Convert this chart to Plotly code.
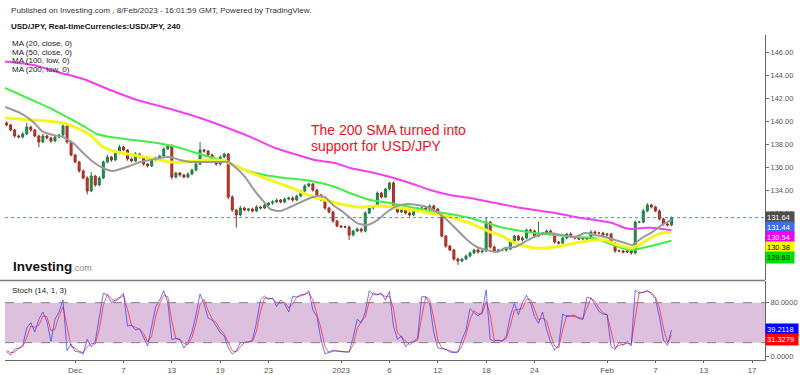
import plotly.graph_objects as go

# ---------------- data (USD/JPY, 8h bars) ----------------
first_open = 139.87
closes = [
    139.70, 139.26, 138.74, 138.65, 138.91, 139.52, 139.26, 138.74, 138.22, 138.74,
    138.57, 138.30, 138.65, 138.83, 139.61, 138.22, 137.09, 136.48, 135.70, 135.09,
    133.96, 135.26, 134.48, 135.09, 136.48, 136.91, 136.65, 137.26, 137.78, 137.52,
    136.74, 136.57, 137.17, 136.91, 136.30, 136.13, 136.65, 136.83, 137.00, 137.61,
    137.87, 135.17, 135.52, 135.35, 135.17, 135.43, 135.78, 136.30, 137.52, 137.43,
    137.09, 136.65, 136.30, 136.91, 137.17, 133.43, 132.30, 131.87, 132.48, 132.30,
    132.39, 132.22, 132.57, 132.48, 132.74, 132.91, 133.00, 133.17, 133.00, 133.26,
    133.35, 133.17, 133.52, 133.96, 134.39, 134.57, 134.04, 133.61, 133.17, 132.48,
    132.13, 131.35, 130.91, 130.83, 130.83, 130.13, 130.48, 130.65, 130.48, 132.04,
    132.48, 132.65, 133.78, 133.43, 134.13, 134.65, 132.57, 132.13, 132.30, 132.04,
    131.87, 132.22, 132.39, 132.48, 132.39, 132.65, 132.39, 131.96, 130.04, 129.17,
    128.83, 128.04, 127.87, 128.04, 128.30, 128.57, 128.83, 128.65, 128.74, 131.26,
    129.09, 128.74, 128.83, 128.83, 128.91, 129.61, 130.04, 129.70, 129.87, 130.57,
    130.48, 130.04, 130.22, 130.30, 130.48, 130.22, 129.52, 129.43, 129.87, 130.22,
    129.96, 129.87, 129.78, 129.87, 129.78, 130.39, 130.30, 130.30, 130.13, 130.22,
    129.43, 128.74, 128.74, 128.65, 128.74, 128.57, 131.26, 131.26, 132.22, 132.74,
    132.57, 132.22, 131.52, 131.09, 131.00, 131.64]
upper_wick = [
    0.15, 0.08, 0.10, 0.12, 0.20, 0.35, 0.10, 0.08, 0.12, 0.18,
    0.10, 0.12, 0.15, 0.10, 0.26, 0.10, 0.12, 0.08, 0.10, 0.12,
    0.15, 0.35, 0.10, 0.15, 0.12, 0.20, 0.10, 0.15, 0.20, 0.10,
    0.08, 0.12, 0.18, 0.10, 0.08, 0.10, 0.15, 0.12, 0.10, 0.15,
    0.12, 0.15, 0.12, 0.10, 0.08, 0.15, 0.12, 0.18, 0.70, 0.10,
    0.08, 0.12, 0.10, 0.15, 0.12, 0.10, 0.15, 0.12, 0.20, 0.10,
    0.08, 0.12, 0.15, 0.10, 0.12, 0.10, 0.15, 0.12, 0.10, 0.12,
    0.10, 0.15, 0.12, 0.10, 0.15, 0.12, 0.10, 0.08, 0.10, 0.12,
    0.10, 0.12, 0.10, 0.08, 0.10, 0.12, 0.10, 0.15, 0.12, 0.15,
    0.12, 0.10, 0.15, 0.12, 0.10, 0.12, 0.15, 0.10, 0.12, 0.10,
    0.12, 0.10, 0.15, 0.12, 0.10, 0.15, 0.12, 0.10, 0.12, 0.10,
    0.08, 0.10, 0.12, 0.10, 0.15, 0.12, 0.10, 0.15, 0.12, 0.44,
    0.10, 0.12, 0.10, 0.08, 0.12, 0.15, 0.12, 0.10, 0.15, 0.12,
    0.10, 0.12, 1.08, 0.10, 0.15, 0.12, 0.10, 0.08, 0.12, 0.10,
    0.15, 0.12, 0.10, 0.08, 0.10, 0.15, 0.12, 0.10, 0.12, 0.10,
    0.08, 0.10, 0.12, 0.10, 0.12, 0.10, 0.15, 0.12, 0.20, 0.17,
    0.12, 0.10, 0.15, 0.12, 0.10, 0.10]
lower_wick = [
    0.10, 0.12, 0.15, 0.10, 0.12, 0.10, 0.15, 0.12, 0.44, 0.10,
    0.12, 0.15, 0.10, 0.12, 0.10, 0.15, 0.12, 0.10, 0.15, 0.12,
    0.30, 0.10, 0.15, 0.12, 0.10, 0.12, 0.15, 0.10, 0.12, 0.10,
    0.15, 0.12, 0.10, 0.12, 0.15, 0.12, 0.10, 0.12, 0.10, 0.12,
    0.10, 0.20, 0.12, 0.15, 0.10, 0.12, 0.10, 0.12, 0.10, 0.15,
    0.12, 0.10, 0.15, 0.12, 0.10, 0.20, 0.15, 1.10, 0.12, 0.10,
    0.15, 0.12, 0.10, 0.12, 0.10, 0.12, 0.15, 0.10, 0.12, 0.10,
    0.12, 0.15, 0.10, 0.12, 0.10, 0.12, 0.15, 0.12, 0.10, 0.15,
    0.12, 0.15, 0.12, 0.10, 0.12, 0.43, 0.12, 0.10, 0.15, 0.12,
    0.10, 0.12, 0.10, 0.12, 0.10, 0.12, 0.15, 0.12, 0.10, 0.12,
    0.15, 0.10, 0.12, 0.10, 0.12, 0.10, 0.12, 0.15, 0.12, 0.15,
    0.12, 0.15, 0.35, 0.12, 0.10, 0.12, 0.10, 0.12, 0.10, 0.12,
    0.15, 0.12, 0.10, 0.12, 0.15, 0.10, 0.12, 0.10, 0.12, 0.10,
    0.12, 0.15, 0.10, 0.12, 0.10, 0.12, 0.15, 0.12, 0.10, 0.12,
    0.10, 0.12, 0.10, 0.15, 0.12, 0.10, 0.12, 0.10, 0.12, 0.15,
    0.12, 0.15, 0.10, 0.12, 0.10, 0.15, 0.12, 0.10, 0.12, 0.10,
    0.12, 0.10, 0.12, 0.15, 0.12, 0.10]

# moving averages, read at bar positions
ma20_x = [-0.4, 3.35, 6.6, 9.06, 11.54, 14.0, 16.5, 19.0, 21.5, 23.9, 26.2, 28.2, 30.6, 33.1,
          35.6, 38.1, 40.6, 43.05, 45.5, 48.0, 50.5, 53.0, 55.0, 56.7, 59.2, 60.9, 62.4, 64.1,
          65.4, 67.9, 70.4, 73.6, 77.0, 79.0, 81.0, 83.5, 87.0, 89.5, 92.0, 94.4, 96.9, 99.4,
          101.9, 104.3, 106.8, 109.3, 111.8, 114.3, 116.7, 119.2, 121.7, 123.7, 126.2, 129.4,
          131.9, 134.4, 137.8, 141.1, 143.5, 146.0, 148.5, 151.0, 153.5, 155.2, 157.7, 160.2,
          162.6, 165.0]
ma20_y = [141.26, 140.74, 139.96, 139.09, 138.83, 138.65, 138.13, 137.26, 136.48, 135.96, 135.70,
          135.87, 136.13, 136.48, 136.65, 136.83, 136.91, 136.65, 136.48, 136.48, 136.48, 136.48,
          136.48, 136.04, 135.17, 134.30, 133.61, 132.91, 132.39, 132.22, 132.57, 133.09, 133.52,
          133.43, 132.74, 132.13, 131.17, 131.00, 131.43, 132.13, 132.65, 132.83, 132.74, 132.57,
          132.13, 131.43, 130.57, 129.70, 129.09, 128.83, 128.65, 129.00, 129.09, 129.70, 130.13,
          130.30, 130.13, 129.96, 130.30, 130.13, 129.96, 129.70, 129.43, 129.26, 129.87, 130.39,
          131.00, 131.44]
ma50_x = [-0.4, 6.6, 14.0, 17.5, 20.7, 23.9, 27.4, 31.4, 35.6, 40.6, 44.8, 49.8, 54.2, 56.7, 60.9,
          65.9, 70.8, 74.8, 79.0, 82.8, 87.0, 92.0, 95.9, 100.9, 105.1, 110.0, 115.0, 120.0, 122.5,
          126.2, 131.1, 136.1, 141.1, 146.0, 148.5, 151.7, 155.2, 157.7, 160.2, 162.6, 165.0]
ma50_y = [140.30, 140.13, 139.87, 139.43, 138.83, 137.78, 137.35, 137.09, 136.83, 136.48, 136.48,
          136.65, 136.57, 136.13, 135.52, 134.83, 134.22, 133.61, 133.17, 132.83, 132.57, 132.65,
          132.57, 132.30, 132.04, 131.70, 131.17, 130.39, 130.13, 129.43, 129.00, 129.09, 129.43,
          129.70, 129.70, 129.26, 129.00, 129.43, 129.96, 130.30, 130.38]
ma100_x = [-0.4, 6.3, 10.8, 15.0, 19.0, 22.5, 25.7, 31.4, 37.3, 42.3, 46.3, 50.5, 54.7, 59.2, 64.1,
           69.1, 74.1, 79.0, 81.5, 85.2, 90.2, 95.2, 100.1, 105.1, 110.0, 115.0, 120.0, 122.5,
           126.2, 131.1, 136.1, 141.1, 146.0, 149.3, 152.7, 155.2, 157.7, 160.9, 165.0]
ma100_y = [142.91, 141.87, 141.17, 140.39, 139.61, 138.91, 138.65, 138.39, 138.13, 137.78, 137.35,
           136.91, 136.48, 135.78, 135.35, 135.09, 134.91, 134.57, 134.30, 133.78, 133.17, 132.91,
           132.57, 132.22, 131.96, 131.61, 131.09, 130.83, 130.57, 130.30, 130.13, 129.96, 129.87,
           129.43, 129.00, 128.83, 129.00, 129.26, 129.63]
ma200_x = [-0.4, 6.6, 12.5, 19.0, 25.7, 32.4, 39.8, 48.0, 55.5, 60.9, 66.6, 72.3, 76.5, 81.5, 85.2,
           90.2, 95.2, 100.1, 105.1, 110.0, 115.0, 120.0, 126.2, 131.1, 136.1, 141.1, 146.0, 150.2,
           153.5, 155.2, 157.7, 160.9, 165.0]
ma200_y = [145.22, 144.91, 144.30, 143.70, 142.74, 141.87, 141.17, 140.30, 139.35, 138.60, 137.70,
           137.09, 136.65, 136.39, 135.96, 135.61, 135.17, 134.65, 134.04, 133.61, 133.35, 133.00,
           132.57, 132.30, 132.04, 131.70, 131.43, 131.17, 130.74, 130.65, 130.74, 130.74, 130.54]

# stochastic (14, 1, 3) at each bar
stoch_k = [6.5, 1.5, 10, 12, 16, 42, 50, 36, 55, 66, 52, 22, 55, 66, 84, 8, 18, 7, 6, 3,
           25, 14, 22, 60, 94, 92, 80, 84, 88, 94, 45, 46, 39, 41, 27, 15, 45, 74, 84, 98,
           80, 25, 26, 25, 12, 21, 36, 62, 93, 78, 57, 54, 45, 35, 30, 12, 3, 8, 20, 21,
           21, 24, 50, 84, 90, 85, 87, 74, 84, 78, 66, 90, 88, 92, 92, 98, 69, 59, 25, 3,
           6, 9, 7, 6, 6, 6, 28, 55, 50, 66, 98, 92, 92, 94, 84, 97, 45, 25, 30, 14,
           20, 22, 27, 89, 89, 78, 35, 12, 11, 10, 6, 5, 6, 25, 39, 71, 65, 60, 66, 99,
           25, 22, 24, 22, 30, 60, 79, 62, 80, 91, 80, 59, 49, 66, 40, 21, 9, 16, 63, 59,
           60, 61, 56, 55, 88, 87, 77, 67, 63, 62, 14, 10, 21, 16, 22, 15, 99, 94, 96, 98,
           93, 86, 59, 24, 16, 39.2118]
stoch_d = [8, 5, 6, 11, 14, 28, 45, 43, 46, 60, 59, 38, 40, 60, 74, 45, 14, 12, 7, 5,
           14, 19, 18, 40, 76, 92, 86, 82, 86, 91, 70, 46, 43, 40, 34, 21, 30, 60, 79, 91,
           89, 52, 26, 25, 19, 17, 28, 49, 77, 85, 68, 56, 50, 40, 33, 21, 8, 6, 14, 20,
           21, 22, 37, 67, 87, 87, 86, 80, 79, 81, 72, 78, 89, 90, 92, 95, 84, 64, 42, 14,
           5, 7, 8, 7, 6, 6, 17, 41, 52, 58, 82, 95, 92, 93, 89, 90, 71, 35, 28, 22,
           17, 21, 24, 58, 89, 84, 57, 24, 12, 10, 8, 6, 6, 15, 32, 55, 68, 63, 63, 82,
           62, 24, 23, 23, 26, 45, 69, 70, 71, 85, 85, 70, 54, 57, 53, 31, 15, 12, 40, 61,
           60, 60, 58, 56, 72, 87, 82, 72, 65, 62, 38, 12, 16, 18, 19, 18, 57, 96, 95, 97,
           95, 89, 72, 42, 20, 31.3279]

tick_pos = [17, 29, 41, 53, 65, 83, 95, 107, 119, 131, 149, 161, 173, 185]
tick_text = ["Dec", "7", "13", "19", "23", "2023", "6", "12", "18", "24", "Feb", "7", "13", "17"]
price_ticks = [128, 130, 132, 134, 136, 138, 140, 142, 144, 146]

last_labels = [  # value, background, text colour
    (131.64, "#4d4d4d", "white"),
    (131.44, "#3f6fe0", "white"),
    (130.54, "#f000f0", "white"),
    (130.38, "#ffff00", "black"),
    (129.63, "#00e000", "black"),
]
stoch_labels = [(39.2118, "#0000ff", "white"), (31.3279, "#ff0000", "white")]

# ---------------- layout geometry ----------------
W, H = 800, 375
PX_L, PX_R = 5, 765
MAIN_TOP, MAIN_BOT = 35, 280
ST_TOP, ST_BOT = 281, 360
PRICE_RANGE = [126.22, 147.52]
STOCH_RANGE = [-6, 112.5]
X_RANGE = [-0.4, 188.2]
FONT = "Arial, Liberation Sans, sans-serif"


def pyp(px):
    return 1 - px / H


opens = [first_open] + closes[:-1]
highs = [max(o, c) + u for o, c, u in zip(opens, closes, upper_wick)]
lows = [min(o, c) - l for o, c, l in zip(opens, closes, lower_wick)]
bars = list(range(len(closes)))

fig = go.Figure()

for xs, ys, col, w in [(ma200_x, ma200_y, "#f040f0", 2),
                       (ma100_x, ma100_y, "#44ee44", 2),
                       (ma50_x, ma50_y, "#f5f522", 3),
                       (ma20_x, ma20_y, "#9a9a9a", 2)]:
    fig.add_trace(go.Scatter(x=xs, y=ys, mode="lines", xaxis="x", yaxis="y",
                             line=dict(color=col, width=w, shape="spline", smoothing=0.6),
                             hoverinfo="skip", showlegend=False))

fig.add_trace(go.Candlestick(
    x=bars, open=opens, high=highs, low=lows, close=closes, xaxis="x", yaxis="y",
    increasing=dict(line=dict(color="#1f7a45", width=1), fillcolor="#2a9155"),
    decreasing=dict(line=dict(color="#9e2a22", width=1), fillcolor="#c23a2e"),
    whiskerwidth=0, showlegend=False))

fig.add_trace(go.Scatter(x=bars, y=stoch_d, mode="lines", xaxis="x2", yaxis="y2",
                         line=dict(color="rgba(255,40,40,0.75)", width=1),
                         hoverinfo="skip", showlegend=False))
fig.add_trace(go.Scatter(x=bars, y=stoch_k, mode="lines", xaxis="x2", yaxis="y2",
                         line=dict(color="rgba(40,40,255,0.65)", width=1),
                         hoverinfo="skip", showlegend=False))

shapes = [
    dict(type="rect", xref="x2", yref="y2", x0=X_RANGE[0], x1=X_RANGE[1], y0=20, y1=80,
         fillcolor="#ddc0de", line=dict(width=0), layer="below"),
    dict(type="line", xref="x2", yref="y2", x0=X_RANGE[0], x1=X_RANGE[1], y0=80, y1=80,
         line=dict(color="#8a7a8a", width=1, dash="dash")),
    dict(type="line", xref="x2", yref="y2", x0=X_RANGE[0], x1=X_RANGE[1], y0=20, y1=20,
         line=dict(color="#8a7a8a", width=1, dash="dash")),
    dict(type="line", xref="x", yref="y", x0=X_RANGE[0], x1=X_RANGE[1], y0=closes[-1], y1=closes[-1],
         line=dict(color="#5a7fe0", width=1, dash="dot")),
    dict(type="line", xref="paper", yref="paper", x0=0, x1=PX_R / W, y0=pyp(280.5), y1=pyp(280.5),
         line=dict(color="#7a7a7a", width=1.5)),
]

ann = []


def txt(x, y, s, size=8, color="#222", **kw):
    ann.append(dict(x=x / W, y=pyp(y), xref="paper", yref="paper", text=s, showarrow=False,
                    xanchor=kw.pop("xanchor", "left"), yanchor="middle",
                    font=dict(family=FONT, size=size, color=color), **kw))


txt(9, 11, "Published on Investing.com , 8/Feb/2023 - 16:01:59 GMT, Powered by TradingView.", 8.1, "#333")
txt(9, 26, "<b>USD/JPY, Real-timeCurrencies:USD/JPY, 240</b>", 8, "#111")
for i, s in enumerate(["MA (20, close, 0)", "MA (50, close, 0)", "MA (100, low, 0)", "MA (200, low, 0)"]):
    txt(10, 44 + 8.5 * i, s, 8, "#222")
txt(10, 290, "Stoch (14, 1, 3)", 8, "#222")
txt(11, 266, "<b>Investing</b><span style='font-size:9px;color:#8a8a8a'>.com</span>", 13.5, "#111")
txt(309, 130, "The 200 SMA turned into", 14, "#e8141c")
txt(309, 146, "support for USD/JPY", 14, "#e8141c")


def stack(labels, rng, top, bot):
    out, prev = [], None
    for v, bg, fg in labels:
        p = top + (rng[1] - v) / (rng[1] - rng[0]) * (bot - top)
        if prev is not None and p < prev + 10:
            p = prev + 10
        prev = p
        out.append((p, v, bg, fg))
    return out


for p, v, bg, fg in stack(last_labels, PRICE_RANGE, MAIN_TOP, MAIN_BOT):
    txt(PX_R, p, f"{v:.2f}", 7.5, fg, bgcolor=bg, borderpad=1, width=26, align="left")
for p, v, bg, fg in stack(stoch_labels, STOCH_RANGE, ST_TOP, ST_BOT):
    txt(PX_R, p, f"{v:.4f}", 7.5, fg, bgcolor=bg, borderpad=1, width=30, align="left")

axis_common = dict(showgrid=False, zeroline=False, fixedrange=True)
tfont = dict(size=7.5, color="#555")
fig.update_layout(
    width=W, height=H, margin=dict(l=0, r=0, t=0, b=0),
    paper_bgcolor="white", plot_bgcolor="white", showlegend=False,
    font=dict(family=FONT, size=8, color="#555"),
    xaxis=dict(domain=[PX_L / W, PX_R / W], range=X_RANGE, anchor="y", showticklabels=False,
               rangeslider=dict(visible=False), **axis_common),
    xaxis2=dict(domain=[PX_L / W, PX_R / W], range=X_RANGE, anchor="y2", tickmode="array",
                tickvals=tick_pos, ticktext=tick_text, ticks="outside", ticklen=2,
                tickcolor="#666", showline=True, linecolor="#666", linewidth=1,
                tickfont=dict(size=8, color="#555"), **axis_common),
    yaxis=dict(domain=[pyp(MAIN_BOT), pyp(MAIN_TOP)], range=PRICE_RANGE, anchor="x", side="right",
               tickmode="array", tickvals=price_ticks, ticktext=[f"{t:.2f}" for t in price_ticks],
               ticks="outside", ticklen=3, tickcolor="#666", showline=True, linecolor="#666",
               linewidth=1, tickfont=tfont, **axis_common),
    yaxis2=dict(domain=[pyp(ST_BOT), pyp(ST_TOP)], range=STOCH_RANGE, anchor="x2", side="right",
                tickmode="array", tickvals=[0, 80], ticktext=["0.0000", "80.0000"],
                ticks="outside", ticklen=3, tickcolor="#666", showline=True, linecolor="#666",
                linewidth=1, tickfont=tfont, **axis_common),
    shapes=shapes, annotations=ann,
)

fig.write_html("out.html", config={"displayModeBar": False},
               post_script="document.body.style.margin='0';document.body.style.padding='0';"
                           "document.body.style.overflow='hidden';")
